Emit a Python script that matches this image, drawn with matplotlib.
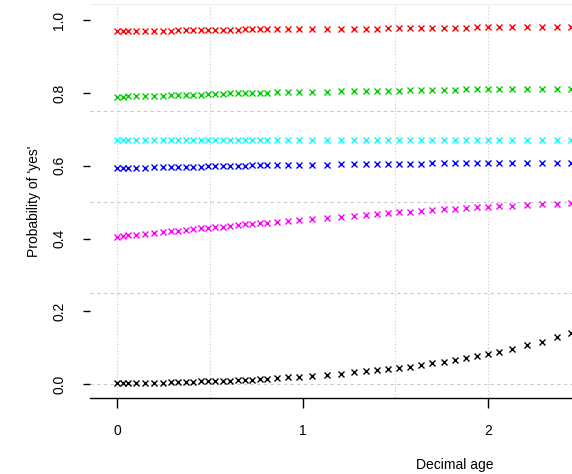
import matplotlib
matplotlib.use("Agg")
import matplotlib.pyplot as plt

plt.rcParams["font.family"] = ["Liberation Sans Narrow", "Liberation Sans", "DejaVu Sans"]

# predicted probability of 'yes' by decimal age, one series per item
ages = [0.00, 0.03, 0.06, 0.10, 0.15, 0.20, 0.25, 0.29, 0.33, 0.37, 0.41, 0.45,
        0.49, 0.53, 0.57, 0.61, 0.65, 0.69, 0.73, 0.77, 0.81, 0.86, 0.92, 0.98,
        1.05, 1.13, 1.21, 1.28, 1.34, 1.40, 1.46, 1.52, 1.58, 1.64, 1.70, 1.76,
        1.82, 1.88, 1.94, 2.00, 2.06, 2.13, 2.21, 2.29, 2.37, 2.45]

p_black = [.002, .002, .002, .003, .003, .004, .004, .005, .005, .006, .006, .007,
           .007, .008, .008, .009, .010, .011, .012, .013, .014, .016, .018, .020,
           .022, .025, .028, .032, .035, .038, .041, .044, .048, .052, .057, .061,
           .066, .072, .077, .082, .089, .097, .106, .116, .128, .140]
p_red = [.972, .972, .972, .972, .972, .972, .972, .972, .973, .973, .973, .973,
         .974, .974, .974, .974, .974, .975, .975, .975, .975, .975, .976, .976,
         .976, .976, .977, .977, .977, .977, .978, .978, .978, .979, .979, .979,
         .980, .980, .981, .981, .982, .982, .982, .982, .982, .982]
p_green = [.790, .790, .791, .791, .792, .792, .793, .794, .794, .795, .795, .796,
           .797, .797, .798, .799, .799, .800, .800, .801, .801, .802, .802, .803,
           .803, .804, .805, .805, .806, .806, .807, .807, .808, .808, .809, .809,
           .809, .810, .810, .810, .810, .810, .810, .810, .810, .810]
p_blue = [.594, .594, .594, .595, .595, .596, .596, .597, .597, .597, .598, .598,
          .599, .599, .599, .600, .600, .600, .601, .601, .601, .601, .602, .602,
          .603, .603, .604, .604, .605, .605, .606, .606, .606, .606, .607, .607,
          .607, .607, .607, .607, .607, .607, .607, .607, .607, .607]
p_cyan = [.671] * len(ages)
p_magenta = [.405, .407, .409, .411, .413, .415, .418, .420, .422, .424, .426, .428,
             .430, .432, .433, .435, .437, .439, .441, .442, .444, .446, .449, .451,
             .454, .457, .460, .463, .465, .467, .470, .472, .474, .476, .478, .480,
             .482, .484, .486, .487, .489, .490, .492, .494, .496, .498]

series = [(p_black, "black"), (p_red, "#FF0000"), (p_green, "#00CD00"),
          (p_blue, "#0000FF"), (p_cyan, "#00FFFF"), (p_magenta, "#FF00FF")]

fig = plt.figure(figsize=(5.72, 4.74), dpi=100)
# plot region runs past the right edge of the picture (cropped R plot)
ax = fig.add_axes([90/572, 1 - 398/474, 730/572, 394/474])

for x in (0, 0.5, 1.5, 2):
    ax.axvline(x, color="#c8c8c8", lw=0.8, ls=(0, (1, 2)), zorder=0)
for y in (0, 0.25, 0.5, 0.75):
    ax.axhline(y, color="#c8c8c8", lw=0.8, ls=(0, (3, 3)), zorder=0)

for vals, col in series:
    ax.plot(ages, vals, ls="none", marker="x", ms=4, mew=1.0, color=col)

ax.set_xlim(-0.146, 3.79)
ax.set_ylim(-0.0385, 1.045)
ax.spines["left"].set_visible(False)
ax.spines["right"].set_visible(False)
ax.spines["top"].set_color("#eeeeee")
ax.spines["bottom"].set_linewidth(1.0)

ax.set_xticks([0, 1, 2])
ax.set_yticks([0, 0.2, 0.4, 0.6, 0.8, 1.0])
ax.set_yticklabels(["0.0", "0.2", "0.4", "0.6", "0.8", "1.0"], rotation=90, va="center")
ax.tick_params(axis="x", length=7, width=1, pad=12, labelsize=10)
ax.tick_params(axis="y", length=5, width=1, pad=12, labelsize=10)

ax.set_xlabel("Decimal age", fontsize=10, labelpad=14)
ax.set_ylabel("Probability of 'yes'", fontsize=10, labelpad=8)

fig.savefig("out.png", dpi=100)
